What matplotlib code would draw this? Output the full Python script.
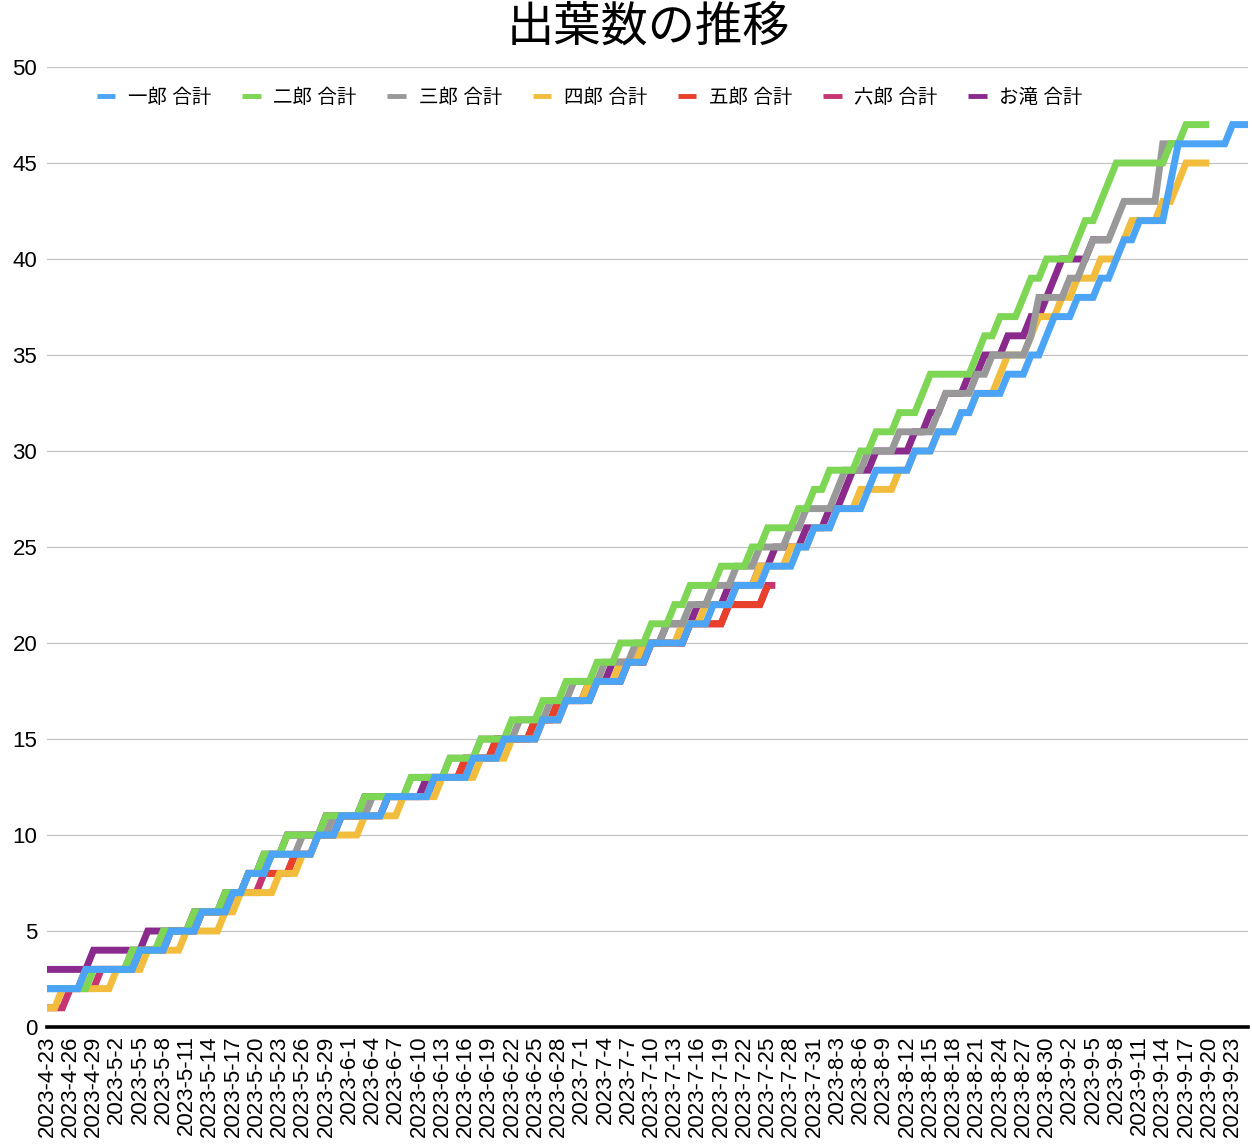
import numpy as np
import pandas as pd
import matplotlib
matplotlib.use("Agg")
import matplotlib.pyplot as plt

plt.rcParams['font.family'] = ['Liberation Sans', 'Noto Sans CJK JP', 'DejaVu Sans']

# dates on the category axis
dates = pd.date_range('2023-04-23', '2023-09-25', freq='D')
date_labels = [f"{d.year}-{d.month}-{d.day}" for d in dates]

# cumulative leaf counts per day
ichiro = [2, 2, 2, 2, 2, 3, 3, 3, 3, 3,
          3, 3, 4, 4, 4, 4, 5, 5, 5, 5,
          6, 6, 6, 6, 7, 7, 8, 8, 8, 9,
          9, 9, 9, 9, 9, 10, 10, 10, 11, 11,
          11, 11, 11, 11, 12, 12, 12, 12, 12, 12,
          13, 13, 13, 13, 13, 14, 14, 14, 14, 15,
          15, 15, 15, 15, 16, 16, 16, 17, 17, 17,
          17, 18, 18, 18, 18, 19, 19, 19, 20, 20,
          20, 20, 20, 21, 21, 21, 22, 22, 22, 23,
          23, 23, 23, 24, 24, 24, 24, 25, 25, 26,
          26, 26, 27, 27, 27, 27, 28, 29, 29, 29,
          29, 29, 30, 30, 30, 31, 31, 31, 32, 32,
          33, 33, 33, 33, 34, 34, 34, 35, 35, 36,
          37, 37, 37, 38, 38, 38, 39, 39, 40, 41,
          41, 42, 42, 42, 42, 44, 46, 46, 46, 46,
          46, 46, 46, 47, 47, 47]

jiro = [2, 2, 2, 2, 2, 2, 3, 3, 3, 3,
        3, 4, 4, 4, 4, 5, 5, 5, 5, 6,
        6, 6, 6, 7, 7, 7, 8, 8, 9, 9,
        9, 10, 10, 10, 10, 10, 11, 11, 11, 11,
        11, 12, 12, 12, 12, 12, 12, 13, 13, 13,
        13, 13, 14, 14, 14, 14, 15, 15, 15, 15,
        16, 16, 16, 16, 17, 17, 17, 18, 18, 18,
        18, 19, 19, 19, 20, 20, 20, 20, 21, 21,
        21, 22, 22, 23, 23, 23, 23, 24, 24, 24,
        24, 25, 25, 26, 26, 26, 26, 27, 27, 28,
        28, 29, 29, 29, 29, 30, 30, 31, 31, 31,
        32, 32, 32, 33, 34, 34, 34, 34, 34, 34,
        35, 36, 36, 37, 37, 37, 38, 39, 39, 40,
        40, 40, 40, 41, 42, 42, 43, 44, 45, 45,
        45, 45, 45, 45, 45, 46, 46, 47, 47, 47,
        47]

saburo = [2, 2, 2, 2, 2, 3, 3, 3, 3, 3,
          3, 4, 4, 4, 4, 5, 5, 5, 5, 5,
          6, 6, 6, 6, 7, 7, 8, 8, 8, 9,
          9, 9, 9, 10, 10, 10, 10, 11, 11, 11,
          11, 11, 12, 12, 12, 12, 12, 13, 13, 13,
          13, 13, 14, 14, 14, 14, 15, 15, 15, 15,
          15, 16, 16, 16, 16, 17, 17, 17, 18, 18,
          18, 18, 19, 19, 19, 19, 20, 20, 20, 20,
          21, 21, 21, 22, 22, 22, 23, 23, 23, 24,
          24, 24, 25, 25, 25, 25, 26, 26, 27, 27,
          27, 27, 28, 29, 29, 29, 30, 30, 30, 30,
          31, 31, 31, 31, 31, 32, 33, 33, 33, 33,
          34, 34, 35, 35, 35, 35, 35, 36, 38, 38,
          38, 38, 39, 39, 40, 41, 41, 41, 42, 43,
          43, 43, 43, 43, 46, 46, 46]

shiro = [1, 1, 2, 2, 2, 2, 2, 2, 2, 3,
         3, 3, 3, 4, 4, 4, 4, 4, 5, 5,
         5, 5, 5, 6, 6, 7, 7, 7, 7, 7,
         8, 8, 8, 9, 9, 10, 10, 10, 10, 10,
         10, 11, 11, 11, 11, 11, 12, 12, 12, 12,
         12, 13, 13, 13, 13, 13, 14, 14, 14, 14,
         15, 15, 15, 15, 16, 16, 16, 17, 17, 17,
         18, 18, 18, 18, 19, 19, 19, 20, 20, 20,
         20, 20, 21, 21, 21, 22, 22, 22, 22, 23,
         23, 23, 24, 24, 24, 24, 25, 25, 25, 26,
         26, 26, 27, 27, 27, 28, 28, 28, 28, 28,
         29, 29, 30, 30, 30, 31, 31, 31, 32, 32,
         33, 33, 33, 34, 35, 35, 35, 36, 37, 37,
         37, 38, 38, 39, 39, 39, 40, 40, 40, 41,
         42, 42, 42, 42, 43, 43, 44, 45, 45, 45,
         45]

goro = [2, 2, 2, 2, 2, 3, 3, 3, 3, 3,
        3, 3, 4, 4, 4, 4, 5, 5, 5, 5,
        6, 6, 6, 6, 7, 7, 8, 8, 8, 8,
        8, 8, 9, 9, 9, 10, 10, 10, 11, 11,
        11, 11, 11, 11, 12, 12, 12, 12, 12, 12,
        13, 13, 13, 13, 14, 14, 14, 14, 15, 15,
        15, 15, 15, 16, 16, 16, 17, 17, 17, 17,
        17, 18, 18, 18, 18, 19, 19, 19, 20, 20,
        20, 20, 20, 21, 21, 21, 21, 21, 22, 22,
        22, 22, 22, 23]

rokuro = [1, 1, 1, 2, 2, 2, 2, 3, 3, 3,
          3, 3, 4, 4, 4, 4, 5, 5, 5, 5,
          6, 6, 6, 6, 7, 7, 7, 7, 8, 8,
          8, 8, 9, 9, 9, 10, 10, 10, 11, 11,
          11, 11, 11, 11, 12, 12, 12, 12, 12, 12,
          13, 13, 13, 13, 13, 14, 14, 14, 14, 15,
          15, 15, 15, 15, 16, 16, 16, 17, 17, 17,
          18, 18, 18, 18, 18, 19, 19, 19, 20, 20,
          20, 20, 20, 21, 21, 21, 21, 21, 22, 22,
          22, 22, 22, 23, 23]

otaki = [3, 3, 3, 3, 3, 3, 4, 4, 4, 4,
         4, 4, 4, 5, 5, 5, 5, 5, 5, 6,
         6, 6, 6, 7, 7, 7, 8, 8, 9, 9,
         9, 10, 10, 10, 10, 10, 11, 11, 11, 11,
         11, 12, 12, 12, 12, 12, 12, 12, 12, 13,
         13, 13, 13, 13, 14, 14, 14, 14, 15, 15,
         15, 15, 15, 16, 16, 16, 17, 17, 17, 17,
         18, 18, 18, 19, 19, 19, 19, 20, 20, 20,
         21, 21, 21, 21, 22, 22, 22, 22, 23, 23,
         23, 23, 24, 24, 25, 25, 25, 25, 26, 26,
         26, 27, 27, 28, 29, 29, 29, 30, 30, 30,
         30, 30, 31, 31, 32, 32, 33, 33, 33, 34,
         34, 35, 35, 35, 36, 36, 36, 37, 37, 38,
         39, 40, 40, 40, 40, 41, 41, 41]

series = [
    ('一郎 合計', ichiro, '#4ba4f5'),
    ('二郎 合計', jiro, '#7ed655'),
    ('三郎 合計', saburo, '#999999'),
    ('四郎 合計', shiro, '#f2bd3c'),
    ('五郎 合計', goro, '#e8402a'),
    ('六郎 合計', rokuro, '#c73472'),
    ('お滝 合計', otaki, '#8a2a8c'),
]

fig = plt.figure(figsize=(12.52, 11.44), dpi=100)
ax = fig.add_axes([47 / 1252, 117 / 1144, 1201 / 1252, 960 / 1144])

n = len(series)
for i, (name, vals, color) in enumerate(series):
    ax.plot(np.arange(len(vals)), vals, color=color, lw=5.0, label=name,
            solid_joinstyle='miter', solid_capstyle='butt', zorder=10 + n - i)

ax.set_xlim(0, len(dates) - 1)
ax.set_ylim(0, 50)
ax.set_yticks(range(0, 51, 5))
ax.yaxis.grid(True, color='#c4c4c4', lw=0.9)
ax.set_axisbelow(True)
ax.tick_params(axis='y', length=0, pad=7, labelsize=16)
ax.tick_params(axis='x', length=0, pad=6, labelsize=16)

tick_pos = list(range(0, len(dates), 3))
ax.set_xticks(tick_pos)
ax.set_xticklabels([date_labels[i] for i in tick_pos], rotation=90)

for side in ['left', 'right', 'top']:
    ax.spines[side].set_visible(False)
ax.spines['bottom'].set_linewidth(2.6)
ax.spines['bottom'].set_color('black')
ax.spines['bottom'].set_zorder(30)

leg = ax.legend(loc='center left', bbox_to_anchor=(97 / 1252, 1 - 98 / 1144),
                bbox_transform=fig.transFigure, ncol=7, frameon=False,
                fontsize=14, handlelength=0.95, handletextpad=0.65,
                columnspacing=1.58, borderpad=0, borderaxespad=0)
for line in leg.get_lines():
    line.set_linewidth(3.5)

fig.text(648 / 1252, 1 - 27 / 1144, '出葉数の推移', ha='center', va='center',
         fontsize=34, family=['Noto Sans CJK JP'])

fig.savefig('out.png', dpi=100)
